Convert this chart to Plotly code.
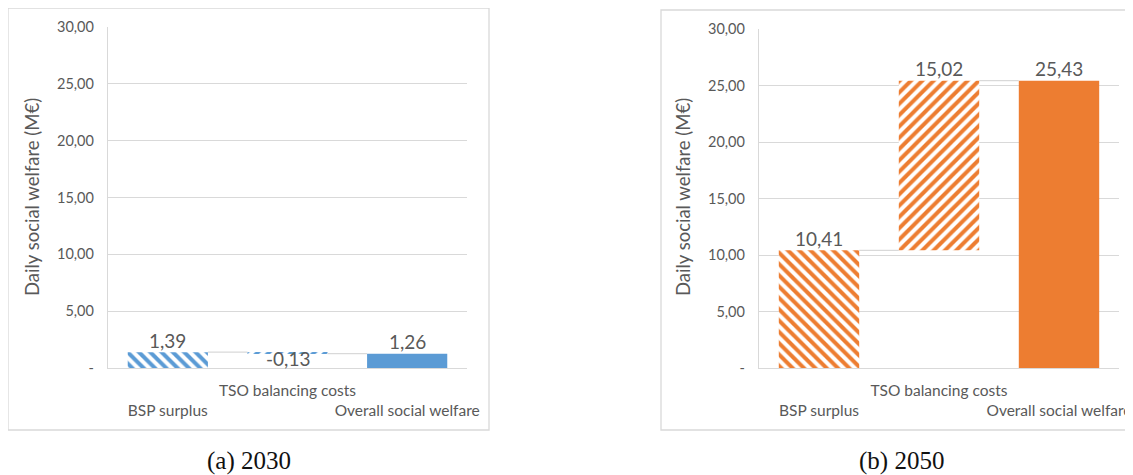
import plotly.graph_objects as go

W, H = 1133, 475
OFF = 8  # browser body margin

categories = ["BSP surplus", "TSO balancing costs", "Overall social welfare"]
tick_labels = ["&nbsp;<br>BSP surplus", "TSO balancing costs", "&nbsp;<br>Overall social welfare"]
y_tick_vals = [0, 5, 10, 15, 20, 25, 30]
y_tick_text = ["-", "5,00", "10,00", "15,00", "20,00", "25,00", "30,00"]

# 2030 waterfall
vals_2030 = [1.39, -0.13, 1.26]
bases_2030 = [0.0, 1.39, 0.0]
# 2050 waterfall
vals_2050 = [10.41, 15.02, 25.43]
bases_2050 = [0.0, 10.41, 0.0]

patterns = ["\\", "/", ""]
BLUE = "#5B9BD5"
ORANGE = "#ED7D31"
GRID = "#D9D9D9"
TXT = "#595959"
FONT = "Lato"
BAR_W = 0.67


def px(x):
    return (x - OFF) / W


def py(y):
    return 1 - (y - OFF) / H


def fmt(v):
    return f"{v:.2f}".replace(".", ",")


fig = go.Figure()
annots = []


def add_panel(vals, bases, color, xa, ya):
    xs = list(range(len(vals)))
    for i in xs:
        pat = patterns[i]
        marker = dict(color=color if pat == "" else "white", line=dict(width=0))
        if pat:
            marker["pattern"] = dict(shape=pat, fgcolor=color, bgcolor="white",
                                     size=8, solidity=0.5, fgopacity=1)
        fig.add_trace(go.Bar(
            x=[xs[i]], y=[vals[i]], base=[bases[i]], width=BAR_W,
            marker=marker, cliponaxis=False, xaxis=xa, yaxis=ya,
            showlegend=False, hoverinfo="skip"))
        end = bases[i] + vals[i]
        shift = 12 if vals[i] >= 0 else -5
        annots.append(dict(x=xs[i], y=end, xref=xa, yref=ya, text=fmt(vals[i]),
                           showarrow=False, xanchor="center", yanchor="middle",
                           yshift=shift,
                           font=dict(family=FONT, size=19, color=TXT)))
    # connector lines between consecutive bars
    for i in range(len(vals) - 1):
        level = bases[i] + vals[i]
        fig.add_trace(go.Scatter(
            x=[xs[i] + BAR_W / 2, xs[i + 1] - BAR_W / 2], y=[level, level],
            mode="lines", line=dict(color=GRID, width=1.3),
            xaxis=xa, yaxis=ya, showlegend=False, hoverinfo="skip"))


add_panel(vals_2030, bases_2030, BLUE, "x", "y")
add_panel(vals_2050, bases_2050, ORANGE, "x2", "y2")

xcommon = dict(range=[-0.5, 2.5], tickvals=[0, 1, 2], ticktext=tick_labels,
               showgrid=False, showline=True, linecolor=GRID, linewidth=1.3,
               ticks="", zeroline=False, ticklabelstandoff=8, tickangle=0,
               automargin=False,
               tickfont=dict(family=FONT, size=15.5, color=TXT), fixedrange=True)
ycommon = dict(range=[0, 30], tickvals=y_tick_vals, ticktext=y_tick_text,
               showgrid=True, gridcolor=GRID, gridwidth=1.3, showline=True,
               linecolor=GRID, linewidth=1.3, zeroline=False, ticks="",
               ticklabelstandoff=10, automargin=False,
               tickfont=dict(family=FONT, size=14.5, color=TXT), fixedrange=True)

annots += [
    dict(text="Daily social welfare (M€)", x=px(32), y=py(197),
         xref="paper", yref="paper", textangle=-90, showarrow=False,
         xanchor="center", yanchor="middle",
         font=dict(family=FONT, size=18.5, color=TXT)),
    dict(text="Daily social welfare (M€)", x=px(683), y=py(197),
         xref="paper", yref="paper", textangle=-90, showarrow=False,
         xanchor="center", yanchor="middle",
         font=dict(family=FONT, size=18.5, color=TXT)),
    dict(text="(a) 2030", x=px(249), y=py(461), xref="paper", yref="paper",
         showarrow=False, xanchor="center", yanchor="middle",
         font=dict(family="Liberation Serif", size=25, color="#111111")),
    dict(text="(b) 2050", x=px(901), y=py(461), xref="paper", yref="paper",
         showarrow=False, xanchor="center", yanchor="middle",
         font=dict(family="Liberation Serif", size=25, color="#111111")),
]

fig.update_layout(
    width=W, height=H, margin=dict(l=0, r=0, t=0, b=0),
    paper_bgcolor="white", plot_bgcolor="white", barmode="overlay",
    xaxis=dict(domain=[px(108), px(467)], anchor="y", **xcommon),
    yaxis=dict(domain=[py(368), py(27)], anchor="x", **ycommon),
    xaxis2=dict(domain=[px(759), px(1119)], anchor="y2", **xcommon),
    yaxis2=dict(domain=[py(368), py(29)], anchor="x2", **ycommon),
    shapes=[
        dict(type="rect", xref="paper", yref="paper", x0=px(8), x1=px(489),
             y0=py(430), y1=py(8), line=dict(color=GRID, width=1.3)),
        dict(type="rect", xref="paper", yref="paper", x0=px(661), x1=px(1150),
             y0=py(430), y1=py(10), line=dict(color=GRID, width=1.3)),
    ],
    annotations=annots,
)

fig.write_html("out.html")
